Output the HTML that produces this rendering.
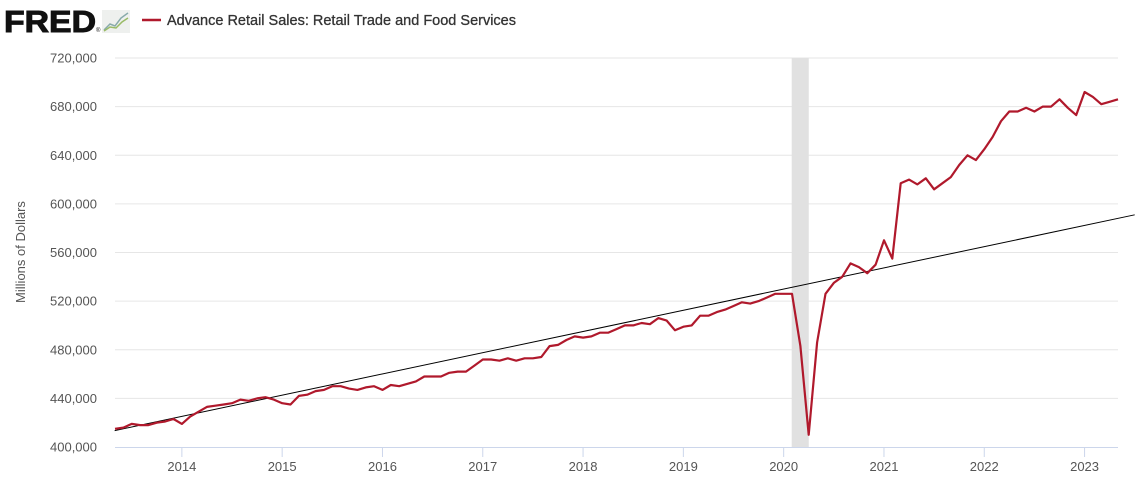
<!DOCTYPE html>
<html><head><meta charset="utf-8"><style>
body{margin:0;background:#fff;width:1140px;height:483px;overflow:hidden;font-family:"Liberation Sans",sans-serif}
</style></head><body>
<svg id="c" width="1140" height="483" xmlns="http://www.w3.org/2000/svg">
<g>
<text x="4" y="32" font-size="31" font-weight="bold" fill="#111" letter-spacing="0" stroke="#111" stroke-width="1" textLength="92" lengthAdjust="spacingAndGlyphs">FRED</text>
<text x="96" y="32" font-size="6" fill="#111">®</text>
<g>
<rect x="102" y="10" width="28" height="23" fill="#eef0ee"/>
<polyline points="104,30 110,24 115,26 121,18 128,13" fill="none" stroke="#8aa" stroke-width="1.5"/>
<polyline points="104,31 110,27 116,28 122,22 128,18" fill="none" stroke="#9b6" stroke-width="1.5"/>
</g>
<line x1="142" y1="20" x2="161" y2="20" stroke="#b0192c" stroke-width="2.5"/>
<text x="167" y="25" font-size="14.5" fill="#333" stroke="#333" stroke-width="0.3">Advance Retail Sales: Retail Trade and Food Services</text>
</g>
<text transform="translate(25,252) rotate(-90)" text-anchor="middle" font-size="13" fill="#555">Millions of Dollars</text>
<g id="grid"></g><g id="rec"></g><g id="xa"></g><g id="ya"></g><g id="ser"></g>
</svg>
<script>
const yTicks=[400000,440000,480000,520000,560000,600000,640000,680000,720000];
const xTickYears=[2014,2015,2016,2017,2018,2019,2020,2021,2022,2023];
const startYear=2013, startMonth=5;
const sales=[415,416,419,418,418,420,421,423,
419,425,429,433,434,435,436,439,438,440,441,439,
436,435,442,443,446,447,450,450,448,447,449,450,
447,451,450,452,454,458,458,458,461,462,462,467,
472,472,471,473,471,473,473,474,483,484,488,491,
490,491,494,494,497,500,500,502,501,506,504,496,
499,500,508,508,511,513,516,519,518,520,523,526,
526,526,483,410,486,526,535,540,551,548,543,550,
570,555,617,620,616,621,612,617,622,632,640,636,
645,655,668,676,676,679,676,680,680,686,679,673,
692,688,682,684,686];
const trendStart=[2013.33,413500];
const trendEnd=[2023.5,591000];
const recession=[2020.08,2020.25];
const NS="http://www.w3.org/2000/svg";
const X0=115,X1=1118,Y0=447,Y1=58;
const tStart=startYear+(startMonth-1)/12, tEnd=tStart+(sales.length-1)/12;
const xs=t=>X0+(t-tStart)/(tEnd-tStart)*(X1-X0);
const ys=v=>Y0-(v-400000)/(720000-400000)*(Y0-Y1);
function mk(tag,attrs,parent){const e=document.createElementNS(NS,tag);for(const k in attrs)e.setAttribute(k,attrs[k]);document.getElementById(parent).appendChild(e);return e;}
yTicks.forEach(v=>{
 const y=ys(v);
 if(v>400000){const l=mk('line',{x1:X0,x2:X1,y1:y,y2:y,stroke:'#e6e6e6','stroke-width':1},'grid');
 
 }
 const t=mk('text',{x:97,y:y+4.5,'text-anchor':'end','font-size':13,fill:'#555'},'ya');
 t.textContent=v.toLocaleString('en-US');
 
 
});
const r=mk('rect',{x:xs(recession[0]),y:Y1,width:xs(recession[1])-xs(recession[0]),height:Y0-Y1,fill:'#e1e1e1'},'rec');


const ax=mk('line',{x1:X0,x2:X1,y1:Y0+0.5,y2:Y0+0.5,stroke:'#ccd6eb','stroke-width':1},'xa');


xTickYears.forEach(yr=>{
 const x=xs(yr);
 const tk=mk('line',{x1:x,x2:x,y1:Y0,y2:Y0+10,stroke:'#ccd6eb'},'xa');
 
 
 const t=mk('text',{x:x,y:471,'text-anchor':'middle','font-size':13,fill:'#555'},'xa');
 t.textContent=yr;
 
 
});
const tl=mk('line',{x1:xs(trendStart[0]),y1:ys(trendStart[1]),x2:xs(trendEnd[0]),y2:ys(trendEnd[1]),stroke:'#000','stroke-width':1},'ser');


const pts=sales.map((v,i)=>xs(tStart+i/12).toFixed(1)+','+ys(v*1000).toFixed(1)).join(' ');
const pl=mk('polyline',{points:pts,fill:'none',stroke:'#b0192c','stroke-width':2.2,'stroke-linejoin':'round'},'ser');


</script>
</body></html>
